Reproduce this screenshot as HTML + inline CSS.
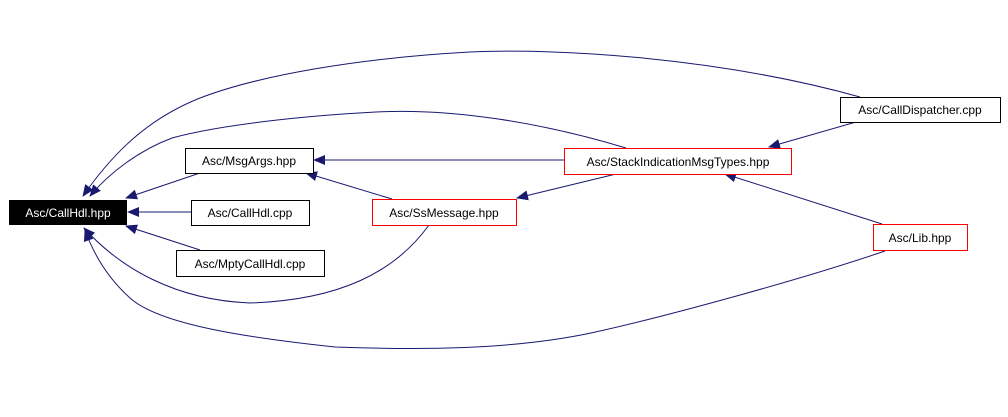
<!DOCTYPE html>
<html><head><style>
html,body{margin:0;padding:0;background:#fff;}
svg{display:block;}
text{font-family:"Liberation Sans",sans-serif;font-size:12px;}
</style></head><body>
<svg width="1008" height="417" viewBox="0 0 1008 417" xmlns="http://www.w3.org/2000/svg">
<defs>
<marker id="a" markerWidth="12" markerHeight="10" refX="11" refY="5" orient="auto" markerUnits="userSpaceOnUse">
<path d="M0,0 L12,5 L0,10 Z" fill="#191970"/>
</marker>
</defs>
<g fill="none" stroke="#191970" stroke-width="1" marker-end="url(#a)">
<path d="M860,97 C720,58 560,48 470,52 C360,58 260,75 200,98 C150,118 115,150 83,196"/>
<path d="M626,148 C540,122 450,108 376,112 C300,116 220,125 172,138 C140,150 110,172 90,196"/>
<path d="M200,173 L126,198"/>
<path d="M191,212 L128,212"/>
<path d="M200,250 L126,226"/>
<path d="M429,225 C395,272 340,300 250,303 C175,300 120,268 84,228"/>
<path d="M885,251 C800,280 660,318 591,333 C510,350 420,350 335,347 C250,338 160,325 130,298 C110,280 95,258 85,230"/>
<path d="M564,160 L314,160"/>
<path d="M392,199 L306,173"/>
<path d="M616,174 L517,198"/>
<path d="M856,122 L769,147"/>
<path d="M882,224 L725,174"/>
</g>
<rect x="9.5" y="200.5" width="117" height="24" fill="#000" stroke="#000"/>
<text x="68" y="217" fill="#fff" text-anchor="middle">Asc/CallHdl.hpp</text>
<rect x="185.5" y="148.5" width="128" height="25" fill="#fff" stroke="#000"/>
<text x="249" y="165" text-anchor="middle">Asc/MsgArgs.hpp</text>
<rect x="191.5" y="200.5" width="118" height="25" fill="#fff" stroke="#000"/>
<text x="250" y="217" text-anchor="middle">Asc/CallHdl.cpp</text>
<rect x="176.5" y="250.5" width="148" height="26" fill="#fff" stroke="#000"/>
<text x="250" y="268" text-anchor="middle">Asc/MptyCallHdl.cpp</text>
<rect x="372.5" y="199.5" width="144" height="26" fill="#fff" stroke="#f00"/>
<text x="444" y="217" text-anchor="middle">Asc/SsMessage.hpp</text>
<rect x="564.5" y="148.5" width="227" height="26" fill="#fff" stroke="#f00"/>
<text x="678" y="166" text-anchor="middle">Asc/StackIndicationMsgTypes.hpp</text>
<rect x="840.5" y="97.5" width="160" height="25" fill="#fff" stroke="#000"/>
<text x="920" y="114" text-anchor="middle">Asc/CallDispatcher.cpp</text>
<rect x="873.5" y="224.5" width="94" height="26" fill="#fff" stroke="#f00"/>
<text x="920" y="242" text-anchor="middle">Asc/Lib.hpp</text>
</svg>
</body></html>
